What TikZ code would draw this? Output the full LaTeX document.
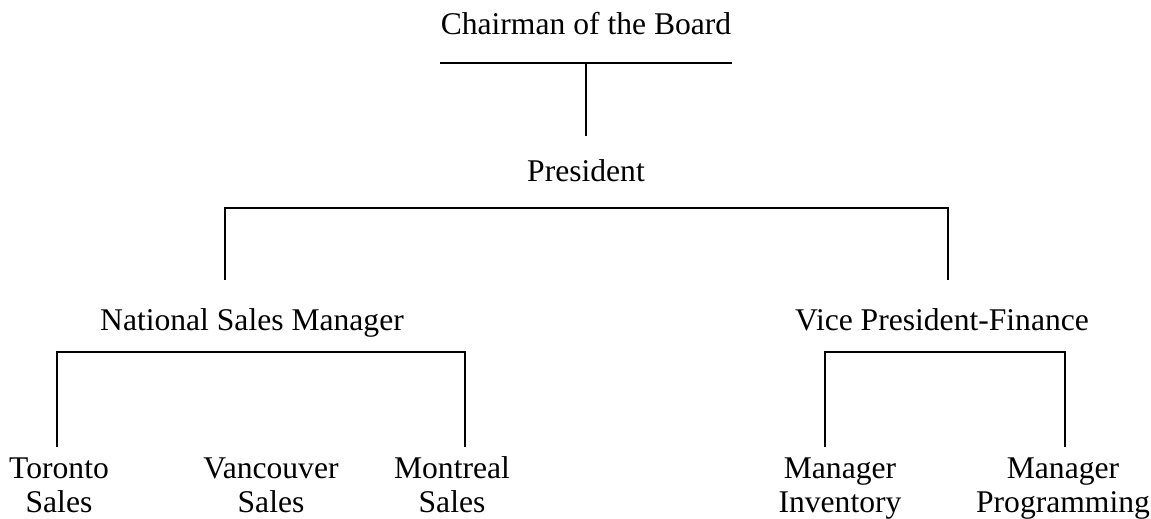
\documentclass[tikz,border=0pt]{standalone}
\usepackage{fontspec}
\setmainfont{Liberation Serif}
\usetikzlibrary{positioning,calc}

\begin{document}
\begin{tikzpicture}[
  x=0.5pt, y=-0.5pt,
  post/.style={font=\fontsize{15.8}{17}\selectfont, align=center, inner sep=0pt, anchor=base},
  link/.style={line width=1.1pt}
]
\useasboundingbox (0,0) rectangle (1151,519);

% Nodes
\node[post] (chair) at (586,35) {Chairman of the Board};
\node[post] (pres) at (586,182) {President};

\node[post] (nsm) at (252,330) {National Sales Manager};
\node[post] (vpf) at (942,330) {Vice President-Finance};

\node[post] (tor) at (59,512) {Toronto\\Sales};
\node[post] (van) at (271,512) {Vancouver\\Sales};
\node[post] (mon) at (452,512) {Montreal\\Sales};

\node[post] (inv) at (840,512) {Manager\\Inventory};
\node[post] (prog) at (1063,512) {Manager\\Programming};

% Chairman to President
\draw[link] (chair.west |- 0,63) -- (chair.east |- 0,63);
\draw[link] (chair.base |- 0,63) -- (pres.base |- 0,136);

% President bracket
\draw[link] (225,280) |- (pres.base |- 0,208) -| (948,280);

% Sales bracket
\draw[link] (57,447) |- (nsm.base |- 0,352) -| (465,447);

% Finance bracket
\draw[link] (825,447) |- (vpf.base |- 0,352) -| (1065,447);

\end{tikzpicture}
\end{document}
